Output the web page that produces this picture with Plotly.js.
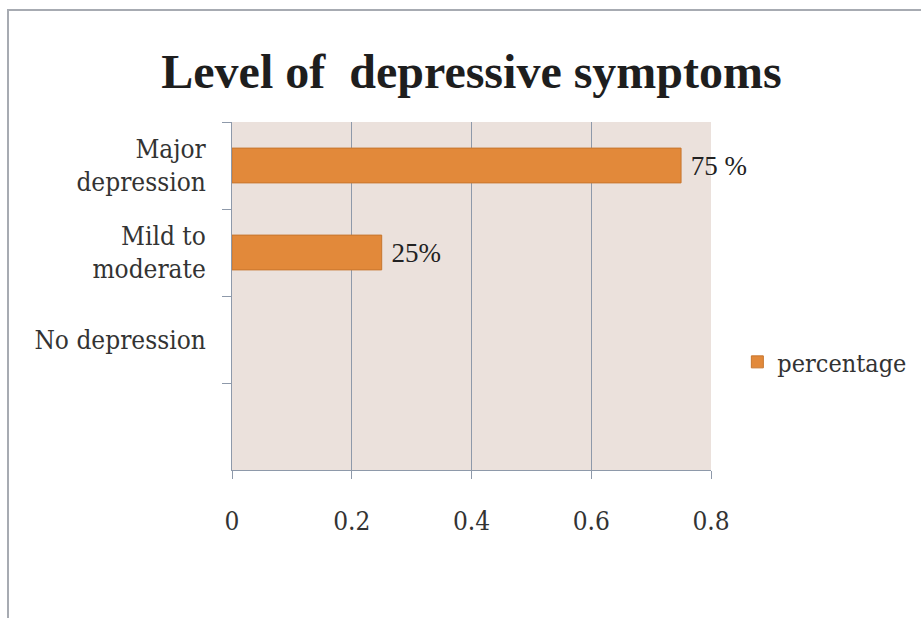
<!DOCTYPE html>
<html>
<head>
<meta charset="utf-8">
<script src="https://cdn.plot.ly/plotly-3.0.1.min.js"></script>
<style>
  html, body { margin: 0; padding: 0; background: #ffffff; }
  #frame { position: absolute; left: 7px; top: 9px; width: 914px; height: 609px;
           border-top: 2px solid #A7ABB2; border-left: 2px solid #A7ABB2; }
  #chart { position: absolute; left: 0; top: 0; width: 921px; height: 618px; }
</style>
</head>
<body>
<div id="frame"></div>
<div id="chart"></div>
<script>
const categories = ["Major<br>depression", "Mild to<br>moderate", "No depression", " "];
const percentage = [0.75, 0.25, 0, null];
const valueLabels = [" 75 %", " 25%", "", ""];
const xTickVals = [0, 0.2, 0.4, 0.6, 0.8];
const xTickText = ["0", "0.2", "0.4", "0.6", "0.8"];

const serif = "DejaVu Serif Condensed, DejaVu Serif, Liberation Serif, serif";

const data = [{
  type: "bar",
  orientation: "h",
  name: "percentage",
  y: categories,
  x: percentage,
  width: 0.4,
  text: valueLabels,
  textposition: "outside",
  constraintext: "none",
  cliponaxis: false,
  textfont: { family: "Liberation Serif, serif", size: 27, color: "#222222" },
  marker: { color: "#E2893A", line: { color: "#C7762E", width: [1, 1, 0, 0] } },
  hoverinfo: "x+y"
}];

const layout = {
  width: 921,
  height: 618,
  margin: { l: 232, r: 210, t: 122, b: 148, autoexpand: false },
  paper_bgcolor: "rgba(0,0,0,0)",
  plot_bgcolor: "#EBE1DC",
  title: {
    text: "<b>Level of  depressive symptoms</b>",
    font: { family: "Liberation Serif, serif", size: 48, color: "#1E1E1E" },
    x: 0.5, xref: "paper", xanchor: "center",
    y: 0.885, yref: "container", yanchor: "middle"
  },
  xaxis: {
    range: [0, 0.8],
    tickvals: xTickVals,
    ticktext: xTickText,
    showgrid: true,
    gridcolor: "#8E99AA",
    gridwidth: 1,
    zeroline: false,
    showline: true,
    linecolor: "#8E99AA",
    linewidth: 1,
    ticks: "outside",
    ticklen: 8,
    tickcolor: "#8E99AA",
    ticklabelstandoff: 20,
    tickfont: { family: serif, size: 26, color: "#333333" },
    automargin: false,
    fixedrange: true
  },
  yaxis: {
    type: "category",
    categoryorder: "array",
    categoryarray: categories,
    range: [3.5, -0.5],
    showgrid: false,
    zeroline: false,
    showline: true,
    linecolor: "#8E99AA",
    linewidth: 1,
    ticks: "outside",
    tickson: "boundaries",
    ticklen: 9,
    tickcolor: "#8E99AA",
    ticklabelstandoff: 20,
    tickfont: { family: serif, size: 26, color: "#333333" },
    automargin: false,
    fixedrange: true
  },
  showlegend: true,
  legend: {
    x: 1.055, xref: "paper", xanchor: "left",
    y: 0.31, yanchor: "middle",
    bgcolor: "rgba(0,0,0,0)",
    font: { family: serif, size: 25, color: "#333333" },
    itemwidth: 30
  },
  bargap: 0.6
};

Plotly.newPlot("chart", data, layout, { displayModeBar: false, staticPlot: true });
</script>
</body>
</html>
